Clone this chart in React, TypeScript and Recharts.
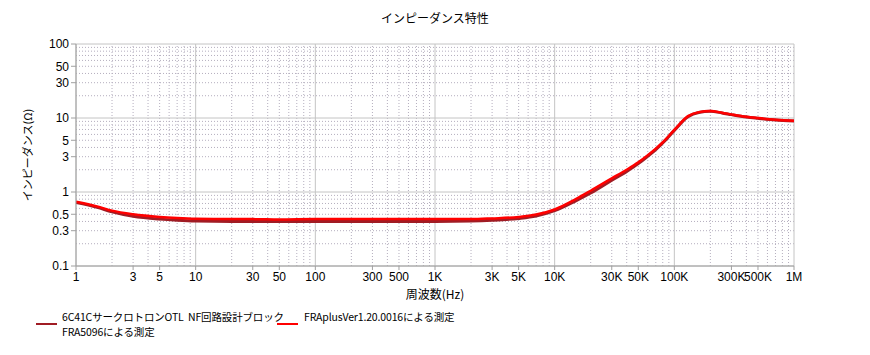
import React from "react";
import {
  LineChart,
  Line,
  XAxis,
  YAxis,
  ReferenceLine,
} from "recharts";

// 周波数 (Hz)
const freqs = [
  1, 1.5, 2, 3, 5, 7, 10, 20, 30, 50, 100, 200, 300, 500, 1000, 2000, 3000,
  5000, 7000, 10000, 15000, 20000, 30000, 40000, 50000, 60000, 70000, 80000,
  100000, 130000, 160000, 200000, 250000, 300000, 400000, 500000, 700000,
  1000000,
];

// FRA5096による測定
const fra5096 = [
  0.72, 0.62, 0.54, 0.47, 0.43, 0.415, 0.405, 0.4, 0.4, 0.4, 0.4, 0.4, 0.4,
  0.4, 0.4, 0.405, 0.415, 0.44, 0.475, 0.56, 0.76, 0.97, 1.44, 1.9, 2.42,
  3.05, 3.75, 4.6, 6.8, 10.4, 11.9, 12.3, 11.7, 11.1, 10.3, 9.9, 9.4, 9.1,
];

// FRAplusVer1.20.0016による測定
const fraPlus = [
  0.74, 0.64, 0.56, 0.5, 0.46, 0.445, 0.435, 0.43, 0.43, 0.425, 0.43, 0.43,
  0.43, 0.43, 0.43, 0.43, 0.44, 0.46, 0.495, 0.58, 0.8, 1.04, 1.53, 2.0, 2.52,
  3.15, 3.85, 4.7, 6.9, 10.6, 12.0, 12.4, 11.8, 11.2, 10.4, 10.0, 9.5, 9.2,
];

const xTicks = [
  1, 3, 5, 10, 30, 50, 100, 300, 500, 1000, 3000, 5000, 10000, 30000, 50000,
  100000, 300000, 500000, 1000000,
];
const yTicks = [0.1, 0.3, 0.5, 1, 3, 5, 10, 30, 50, 100];

const xDecades = [1, 10, 100, 1000, 10000, 100000];
const yDecades = [0.1, 1, 10];
const minorSteps = [2, 3, 4, 5, 6, 7, 8, 9];

const legendA1 = "6C41CサークロトロンOTL  NF回路設計ブロック";
const legendA2 = "FRA5096による測定";
const legendB = "FRAplusVer1.20.0016による測定";

const data = freqs.map((f, i) => ({ f, a: fra5096[i], b: fraPlus[i] }));

const fmtX = (v: number) => {
  if (v >= 1000000) return `${v / 1000000}M`;
  if (v >= 1000) return `${v / 1000}K`;
  return `${v}`;
};

const font = "'Liberation Sans', 'Noto Sans CJK JP', sans-serif";
const jpFont = "'Noto Sans CJK JP', sans-serif";
const majorColor = "#c4c4c4";
const minorColor = "#b4aebe";

const App: React.FC = () => {
  const xMinor = xDecades.flatMap((d) => minorSteps.map((s) => d * s));
  const yMinor = yDecades.flatMap((d) => minorSteps.map((s) => d * s));
  const xMajor = [...xDecades, 1000000];
  const yMajor = [...yDecades, 100];

  const legendText: React.CSSProperties = {
    position: "absolute",
    top: 0,
    whiteSpace: "pre",
    fontSize: 10.5,
    letterSpacing: -0.15,
    lineHeight: "15px",
    fontFamily: jpFont,
  };

  return (
    <div
      style={{
        position: "absolute",
        left: 0,
        top: 0,
        width: 870,
        height: 355,
        background: "#fff",
        fontFamily: font,
      }}
    >
      <div
        style={{
          position: "absolute",
          left: 0,
          top: 9,
          width: 870,
          textAlign: "center",
          fontSize: 12,
          fontFamily: jpFont,
        }}
      >
        インピーダンス特性
      </div>
      <LineChart
        width={870}
        height={355}
        data={data}
        margin={{ top: 44, right: 76, bottom: 0, left: 0 }}
      >
        {xMinor.map((v) => (
          <ReferenceLine
            key={`xm${v}`}
            x={v}
            stroke={minorColor}
            strokeDasharray="1 2"
          />
        ))}
        {yMinor.map((v) => (
          <ReferenceLine
            key={`ym${v}`}
            y={v}
            stroke={minorColor}
            strokeDasharray="1 2"
          />
        ))}
        {xMajor.map((v) => (
          <ReferenceLine key={`xM${v}`} x={v} stroke={majorColor} />
        ))}
        {yMajor.map((v) => (
          <ReferenceLine key={`yM${v}`} y={v} stroke={majorColor} />
        ))}
        <XAxis
          dataKey="f"
          type="number"
          scale="log"
          domain={[1, 1000000]}
          ticks={xTicks}
          tickFormatter={fmtX}
          interval={0}
          height={89}
          stroke="#a0a0a0"
          tickSize={4}
          tick={{ fill: "#000", fontSize: 12, fontFamily: font }}
          allowDataOverflow
          label={{
            value: "周波数(Hz)",
            position: "insideTop",
            offset: 24,
            fill: "#000",
            fontSize: 12,
            fontFamily: jpFont,
          }}
        />
        <YAxis
          type="number"
          scale="log"
          domain={[0.1, 100]}
          ticks={yTicks}
          interval={0}
          width={76}
          stroke="#a0a0a0"
          tickSize={5}
          tick={{ fill: "#000", fontSize: 12, fontFamily: font }}
          allowDataOverflow
          label={{
            value: "インピーダンス(Ω)",
            angle: -90,
            position: "insideLeft",
            offset: 28,
            style: { textAnchor: "middle" },
            fill: "#000",
            fontSize: 11,
            fontFamily: jpFont,
          }}
        />
        <Line
          dataKey="a"
          type="monotone"
          stroke="#a01c24"
          strokeWidth={3}
          dot={false}
          isAnimationActive={false}
        />
        <Line
          dataKey="b"
          type="monotone"
          stroke="#ff0000"
          strokeWidth={2.5}
          dot={false}
          isAnimationActive={false}
        />
      </LineChart>
      <div style={{ position: "absolute", left: 36, top: 309 }}>
        <div
          style={{
            position: "absolute",
            left: 0,
            top: 14,
            width: 21,
            height: 2,
            background: "#a01c24",
          }}
        />
        <div style={{ ...legendText, left: 26 }}>
          {legendA1}
          <br />
          {legendA2}
        </div>
      </div>
      <div style={{ position: "absolute", left: 277, top: 309 }}>
        <div
          style={{
            position: "absolute",
            left: 0,
            top: 14,
            width: 21,
            height: 2,
            background: "#ff0000",
          }}
        />
        <div style={{ ...legendText, left: 27 }}>{legendB}</div>
      </div>
    </div>
  );
};

export default App;
